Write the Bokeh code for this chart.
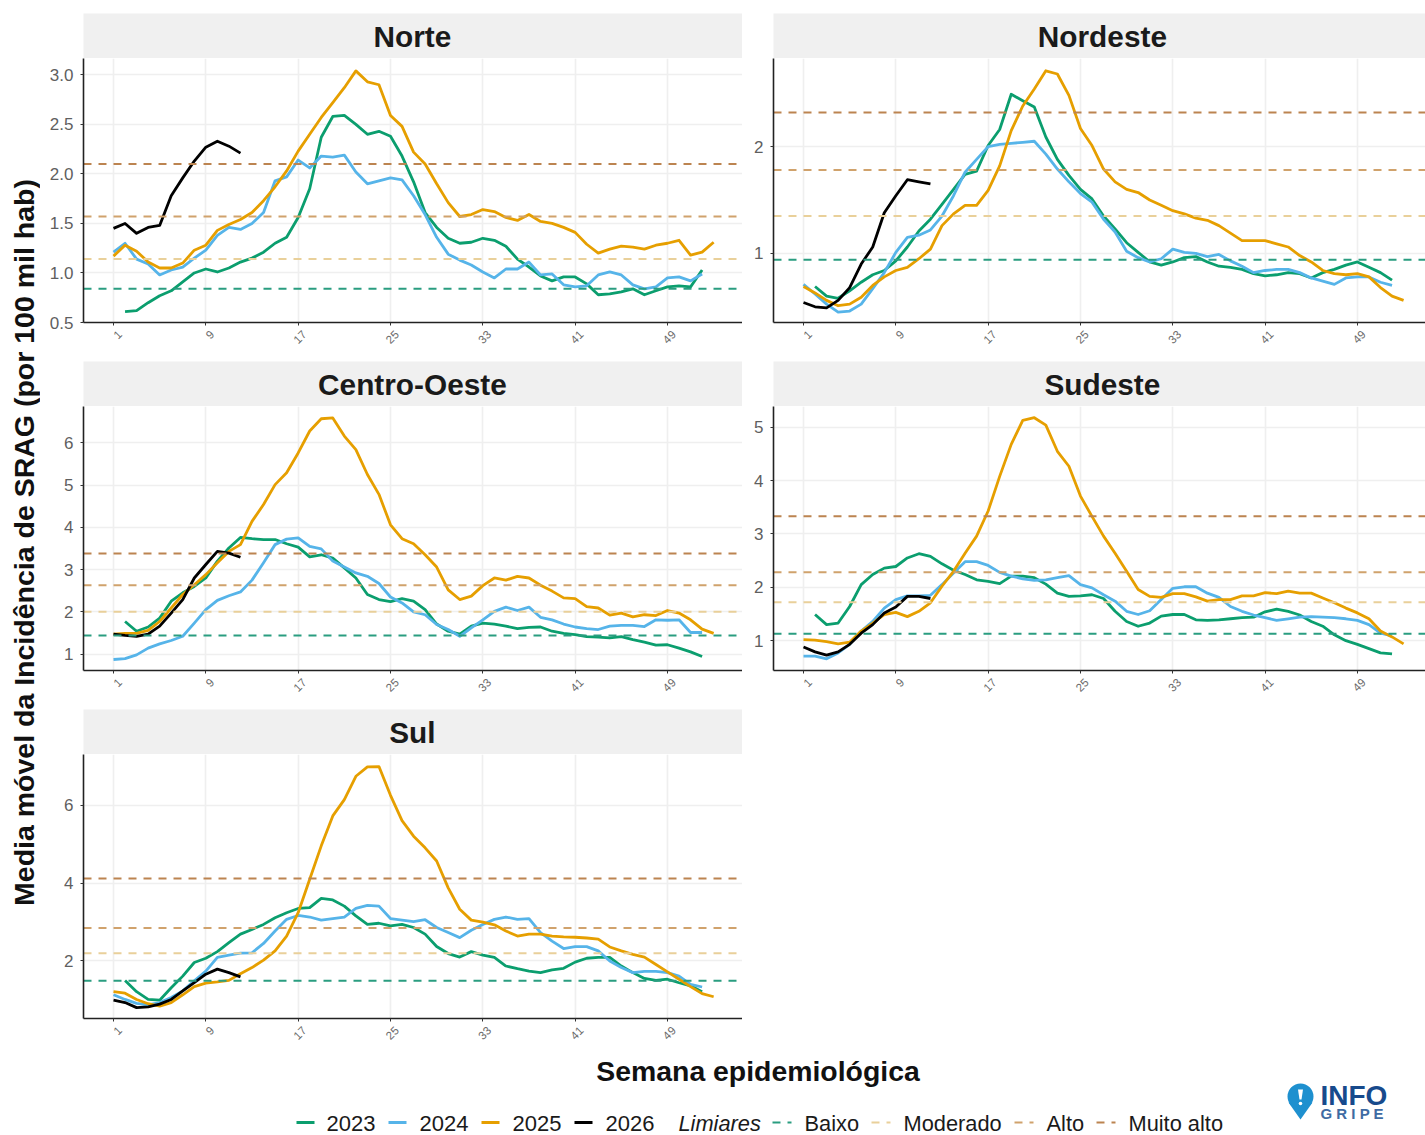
from bokeh.embed import file_html
from bokeh.resources import INLINE
from bokeh.plotting import figure
from bokeh.layouts import column, row
from bokeh.models import Span, FixedTicker, NumeralTickFormatter, Range1d, Spacer, LinearAxis
from bokeh.core.properties import value
import math

# ---------- data ----------
norte_2023 = [0.61,0.62,0.70,0.77,0.82,0.91,1.00,1.04,1.01,1.05,1.11,1.15,1.21,1.30,1.36,1.56,1.85,2.37,2.58,2.59,2.50,2.40,2.43,2.38,2.18,1.92,1.61,1.46,1.35,1.30,1.31,1.35,1.33,1.27,1.14,1.06,0.97,0.92,0.96,0.96,0.89,0.78,0.79,0.81,0.84,0.78,0.82,0.86,0.87,0.86,1.03]
norte_2024 = [1.21,1.30,1.14,1.09,0.98,1.03,1.06,1.15,1.23,1.38,1.46,1.44,1.50,1.61,1.93,1.97,2.14,2.06,2.18,2.17,2.19,2.02,1.90,1.93,1.96,1.94,1.78,1.59,1.36,1.19,1.13,1.08,1.01,0.95,1.04,1.04,1.11,0.98,0.99,0.88,0.86,0.87,0.98,1.01,0.98,0.88,0.84,0.86,0.95,0.96,0.92,0.99]
norte_2025 = [1.17,1.28,1.22,1.11,1.05,1.05,1.10,1.23,1.28,1.43,1.49,1.54,1.61,1.73,1.87,2.03,2.23,2.40,2.57,2.72,2.87,3.04,2.93,2.90,2.59,2.48,2.22,2.10,1.90,1.71,1.57,1.59,1.64,1.62,1.56,1.53,1.59,1.52,1.50,1.46,1.41,1.29,1.20,1.24,1.27,1.26,1.24,1.28,1.30,1.33,1.18,1.21,1.31]
norte_2026 = [1.45,1.50,1.40,1.46,1.48,1.78,1.96,2.13,2.27,2.33,2.28,2.21]
norte_limiares = [0.84,1.14,1.57,2.10]

nordeste_2023 = [0.69,0.60,0.58,0.65,0.73,0.80,0.84,0.93,1.06,1.21,1.32,1.46,1.60,1.74,1.77,2.01,2.16,2.49,2.43,2.37,2.09,1.88,1.73,1.60,1.51,1.35,1.23,1.10,1.01,0.92,0.89,0.92,0.96,0.97,0.92,0.88,0.87,0.85,0.81,0.79,0.80,0.82,0.81,0.77,0.82,0.85,0.89,0.92,0.87,0.82,0.75]
nordeste_2024 = [0.71,0.62,0.525,0.45,0.46,0.525,0.67,0.82,1.01,1.15,1.17,1.22,1.35,1.54,1.76,1.88,2.00,2.02,2.03,2.04,2.05,1.93,1.79,1.67,1.56,1.48,1.32,1.20,1.02,0.96,0.92,0.95,1.04,1.01,1.00,0.97,0.99,0.93,0.88,0.82,0.84,0.85,0.85,0.82,0.77,0.74,0.71,0.77,0.78,0.78,0.73,0.70]
nordeste_2025 = [0.69,0.63,0.56,0.51,0.525,0.59,0.70,0.78,0.84,0.87,0.95,1.04,1.26,1.37,1.45,1.45,1.59,1.82,2.15,2.38,2.54,2.71,2.68,2.48,2.17,2.01,1.79,1.67,1.60,1.57,1.50,1.45,1.40,1.37,1.33,1.31,1.26,1.19,1.12,1.12,1.12,1.09,1.06,0.98,0.92,0.84,0.81,0.80,0.81,0.78,0.68,0.60,0.56]
nordeste_2026 = [0.54,0.50,0.49,0.56,0.68,0.90,1.06,1.38,1.54,1.69,1.67,1.65]
nordeste_limiares = [0.94,1.35,1.78,2.32]

centro_2023 = [1.77,1.54,1.64,1.85,2.25,2.45,2.60,2.80,3.20,3.51,3.76,3.73,3.71,3.71,3.61,3.53,3.30,3.35,3.27,3.04,2.80,2.41,2.29,2.24,2.31,2.25,2.05,1.71,1.54,1.47,1.66,1.73,1.71,1.66,1.60,1.63,1.64,1.54,1.49,1.46,1.41,1.40,1.38,1.41,1.34,1.28,1.21,1.22,1.14,1.05,0.94]
centro_2024 = [0.87,0.89,0.98,1.14,1.24,1.32,1.42,1.73,2.05,2.27,2.38,2.47,2.75,3.16,3.59,3.72,3.75,3.55,3.49,3.20,3.06,2.92,2.84,2.67,2.35,2.21,2.00,1.93,1.70,1.58,1.42,1.62,1.81,2.01,2.11,2.03,2.11,1.87,1.81,1.71,1.64,1.60,1.58,1.66,1.68,1.68,1.65,1.81,1.80,1.81,1.51,1.51]
centro_2025 = [1.47,1.49,1.49,1.56,1.77,2.09,2.41,2.64,2.88,3.16,3.43,3.59,4.14,4.54,5.01,5.29,5.76,6.28,6.57,6.59,6.16,5.84,5.25,4.78,4.06,3.73,3.61,3.35,3.06,2.52,2.29,2.37,2.62,2.80,2.75,2.84,2.80,2.63,2.49,2.33,2.31,2.12,2.09,1.92,1.97,1.88,1.93,1.91,2.03,1.97,1.81,1.59,1.49]
centro_2026 = [1.47,1.44,1.42,1.47,1.66,1.97,2.29,2.80,3.12,3.43,3.39,3.29]
centro_limiares = [1.44,2.00,2.63,3.38]

sudeste_2023 = [1.49,1.30,1.33,1.64,2.05,2.24,2.36,2.39,2.55,2.63,2.58,2.44,2.32,2.24,2.14,2.11,2.07,2.21,2.21,2.18,2.06,1.89,1.83,1.84,1.86,1.79,1.55,1.36,1.27,1.33,1.46,1.49,1.49,1.39,1.38,1.39,1.41,1.43,1.44,1.54,1.59,1.55,1.48,1.36,1.27,1.11,1.00,0.93,0.85,0.77,0.75]
sudeste_2024 = [0.71,0.71,0.66,0.77,0.93,1.18,1.36,1.61,1.77,1.84,1.84,1.85,2.05,2.27,2.48,2.48,2.41,2.28,2.21,2.16,2.13,2.14,2.18,2.22,2.05,1.99,1.86,1.74,1.55,1.49,1.56,1.77,1.98,2.01,2.01,1.89,1.81,1.64,1.55,1.48,1.43,1.38,1.41,1.44,1.45,1.44,1.43,1.41,1.38,1.30,1.14,1.09]
sudeste_2025 = [1.02,1.01,0.98,0.94,0.97,1.18,1.33,1.49,1.53,1.45,1.55,1.71,2.02,2.30,2.64,2.96,3.43,4.08,4.68,5.13,5.18,5.04,4.55,4.27,3.71,3.33,2.96,2.64,2.30,1.96,1.83,1.81,1.88,1.88,1.82,1.74,1.77,1.77,1.84,1.84,1.90,1.88,1.93,1.89,1.89,1.80,1.71,1.61,1.52,1.41,1.18,1.07,0.94]
sudeste_2026 = [0.88,0.79,0.73,0.79,0.93,1.14,1.30,1.52,1.63,1.83,1.83,1.79]
sudeste_limiares = [1.13,1.72,2.28,3.33]

sul_2023 = [1.50,1.21,1.01,0.99,1.31,1.61,1.96,2.07,2.24,2.47,2.69,2.81,2.94,3.11,3.24,3.35,3.37,3.61,3.57,3.41,3.16,2.94,2.97,2.90,2.94,2.86,2.69,2.37,2.19,2.10,2.24,2.15,2.09,1.87,1.80,1.74,1.70,1.77,1.81,1.97,2.07,2.09,2.09,1.87,1.70,1.55,1.50,1.53,1.44,1.36,1.21]
sul_2024 = [1.13,1.01,0.91,0.87,0.93,1.06,1.23,1.49,1.74,2.09,2.15,2.20,2.21,2.45,2.77,3.07,3.17,3.13,3.05,3.09,3.13,3.35,3.43,3.41,3.09,3.05,3.01,3.06,2.86,2.73,2.60,2.79,2.94,3.07,3.13,3.07,3.09,2.73,2.51,2.32,2.37,2.37,2.26,2.00,1.83,1.70,1.73,1.73,1.70,1.61,1.40,1.33]
sul_2025 = [1.21,1.17,1.01,0.90,0.84,0.93,1.13,1.34,1.43,1.46,1.50,1.67,1.83,2.02,2.26,2.64,3.24,4.10,4.96,5.73,6.15,6.75,6.99,7.00,6.26,5.61,5.21,4.91,4.57,3.88,3.33,3.05,3.00,2.93,2.77,2.64,2.69,2.69,2.64,2.62,2.61,2.59,2.56,2.36,2.26,2.17,2.10,1.91,1.72,1.53,1.34,1.16,1.08]
sul_2026 = [0.99,0.93,0.80,0.82,0.89,1.01,1.23,1.44,1.66,1.79,1.70,1.59]
sul_limiares = [1.49,2.20,2.85,4.12]

week_ticks = [1, 9, 17, 25, 33, 41, 49]
start_2023, start_other = 2, 1
years = ["2023", "2024", "2025", "2026"]
year_colors = ["#0B9E6E", "#56B4E9", "#E69F00", "#000000"]
limiar_names = ["Baixo", "Moderado", "Alto", "Muito alto"]
limiar_colors = ["#2A9D80", "#E9D09A", "#D0A26C", "#BC8450"]

SANS = value("Liberation Sans")
GRID = "#EFEFEF"
LABEL_SHIFT = 0.55  # week labels sit a little to the right of their ticks


def panel(title, yr, yticks, series, limiares, left_px, frame_w, x_end, fmt=None, bottom=39):
    xr = Range1d(-1.6, x_end)
    strip = figure(width=left_px + frame_w, height=45, x_range=xr, y_range=(0, 1),
                   output_backend="svg", toolbar_location=None, min_border_left=left_px,
                   min_border_right=0, min_border_top=0, min_border_bottom=0,
                   background_fill_color="#F0F0F0", outline_line_color=None)
    strip.axis.visible = False
    strip.grid.visible = False
    strip.text([26.9], [0.48], text=[title], text_font=SANS, text_font_style="bold",
               text_font_size="29.8px", text_align="center", text_baseline="middle",
               text_color="#1A1A1A")

    p = figure(width=left_px + frame_w, height=264 + bottom, x_range=xr, y_range=Range1d(*yr),
               output_backend="svg", toolbar_location=None, min_border_left=left_px,
               min_border_right=0, min_border_top=0, min_border_bottom=bottom,
               outline_line_color=None, background_fill_color="white")
    p.xaxis.ticker = FixedTicker(ticks=week_ticks)
    p.yaxis.ticker = FixedTicker(ticks=yticks)
    if fmt:
        p.yaxis.formatter = NumeralTickFormatter(format=fmt)
    for ax in (p.xaxis[0], p.yaxis[0]):
        ax.axis_line_color = "#222222"
        ax.axis_line_width = 1.6
        ax.major_tick_line_color = "#333333"
        ax.major_tick_line_width = 1
        ax.major_tick_in = 0
        ax.major_tick_out = 3
        ax.minor_tick_line_color = None
        ax.major_label_text_font = "Liberation Sans"
        ax.major_label_text_color = "#5F5F5F"
    p.yaxis[0].major_label_text_font_size = "17px"
    p.yaxis[0].major_label_standoff = 7
    p.xaxis[0].major_label_overrides = {w: "" for w in week_ticks}
    p.xaxis[0].major_label_standoff = 0

    p.extra_x_ranges["week_labels"] = Range1d(-1.6 - LABEL_SHIFT, x_end - LABEL_SHIFT)
    lab = LinearAxis(x_range_name="week_labels", ticker=FixedTicker(ticks=week_ticks),
                     axis_line_color=None, major_tick_line_color=None, minor_tick_line_color=None,
                     major_tick_in=0, major_tick_out=0, major_label_standoff=7,
                     major_label_orientation=math.pi / 4, major_label_text_font_size="11.5px",
                     major_label_text_font="Liberation Sans", major_label_text_color="#6A6A6A")
    p.add_layout(lab, "below")

    p.xgrid.grid_line_color = GRID
    p.ygrid.grid_line_color = GRID
    p.xgrid.grid_line_width = 1.7
    p.ygrid.grid_line_width = 1.7

    for val, col in zip(limiares, limiar_colors):
        p.add_layout(Span(location=val, dimension="width", line_color=col, line_width=2,
                          line_dash="8 7", level="glyph"))
    for name, ys, col in zip(years, series, year_colors):
        first = start_2023 if name == "2023" else start_other
        xs = list(range(first, first + len(ys)))
        p.line(xs, ys, line_color=col, line_width=2.8, line_join="round")
    return strip, p


s1, p1 = panel("Norte", (0.5, 3.165), [0.5, 1, 1.5, 2, 2.5, 3],
               [norte_2023, norte_2024, norte_2025, norte_2026], norte_limiares, 43, 659, 55.5, "0.0")
s2, p2 = panel("Nordeste", (0.353, 2.825), [1, 2],
               [nordeste_2023, nordeste_2024, nordeste_2025, nordeste_2026], nordeste_limiares, 31, 652, 54.9)
s3, p3 = panel("Centro-Oeste", (0.61, 6.86), [1, 2, 3, 4, 5, 6],
               [centro_2023, centro_2024, centro_2025, centro_2026], centro_limiares, 43, 659, 55.5)
s4, p4 = panel("Sudeste", (0.44, 5.39), [1, 2, 3, 4, 5],
               [sudeste_2023, sudeste_2024, sudeste_2025, sudeste_2026], sudeste_limiares, 31, 652, 54.9)
s5, p5 = panel("Sul", (0.52, 7.31), [2, 4, 6],
               [sul_2023, sul_2024, sul_2025, sul_2026], sul_limiares, 43, 659, 55.5, bottom=29)

# ---------- y-axis title ----------
yfig = figure(width=40, height=1048, x_range=(0, 40), y_range=(1048, 0),
              output_backend="svg", toolbar_location=None, min_border=0, outline_line_color=None)
yfig.axis.visible = False
yfig.grid.visible = False
yfig.text([23], [542], text=["Media móvel da Incidência de SRAG (por 100 mil hab)"],
          angle=math.pi / 2, text_font=SANS, text_font_style="bold", text_font_size="28.5px",
          text_align="center", text_baseline="middle", text_color="#111111")

# ---------- bottom band: x title, legend, logo ----------
bot = figure(width=1425, height=87, x_range=(0, 1425), y_range=(1135, 1048),
             output_backend="svg", toolbar_location=None, min_border=0, outline_line_color=None)
bot.axis.visible = False
bot.grid.visible = False
bot.text([757.5], [1070], text=["Semana epidemiológica"], text_font=SANS, text_font_style="bold",
         text_font_size="28.4px", text_align="center", text_baseline="middle", text_color="#111111")

LEG_Y = 1123
for name, col, kx, tx in zip(years, year_colors, [296, 388, 481, 574], [326, 419, 512, 605]):
    bot.line([kx, kx + 18], [LEG_Y - 1, LEG_Y - 1], line_color=col, line_width=3)
    bot.text([tx], [LEG_Y], text=[name], text_font=SANS, text_font_size="22px",
             text_baseline="middle", text_color="#1A1A1A")
bot.text([678], [LEG_Y], text=["Limiares"], text_font=SANS, text_font_style="italic",
         text_font_size="21.8px", text_baseline="middle", text_color="#1A1A1A")
for name, col, kx, tx in zip(limiar_names, limiar_colors, [772, 871, 1014, 1096], [804, 903, 1046, 1128]):
    bot.line([kx, kx + 19], [LEG_Y - 1, LEG_Y - 1], line_color=col, line_width=2, line_dash="8 7")
    bot.text([tx], [LEG_Y], text=[name], text_font=SANS, text_font_size="21.8px",
             text_baseline="middle", text_color="#1A1A1A")

# logo
bot.circle([1300], [1096], radius=13, fill_color="#1E90CF", line_color=None)
bot.patch([1288, 1312, 1300], [1102, 1102, 1119], fill_color="#1E90CF", line_color=None)
bot.patch([1297.5, 1302.5, 1301, 1299], [1089, 1089, 1099, 1099], fill_color="white", line_color=None)
bot.circle([1300], [1103], radius=1.8, fill_color="white", line_color=None)
bot.text([1320], [1095], text=["INFO"], text_font=SANS, text_font_style="bold",
         text_font_size="28px", text_baseline="middle", text_color="#174A8C")
bot.text([1320], [1113], text=["G R I P E"], text_font=SANS, text_font_style="bold",
         text_font_size="15px", text_baseline="middle", text_color="#3E6BA3")

left_col = column(Spacer(width=702, height=13), s1, p1, s3, p3, s5, p5, spacing=0)
right_col = column(Spacer(width=683, height=13), s2, p2, s4, p4, spacing=0)
root = column(row(yfig, left_col, right_col, spacing=0), bot, spacing=0,
              styles={"position": "absolute", "left": "0px", "top": "0px"})

open("out.html", "w").write(file_html(root, INLINE))
